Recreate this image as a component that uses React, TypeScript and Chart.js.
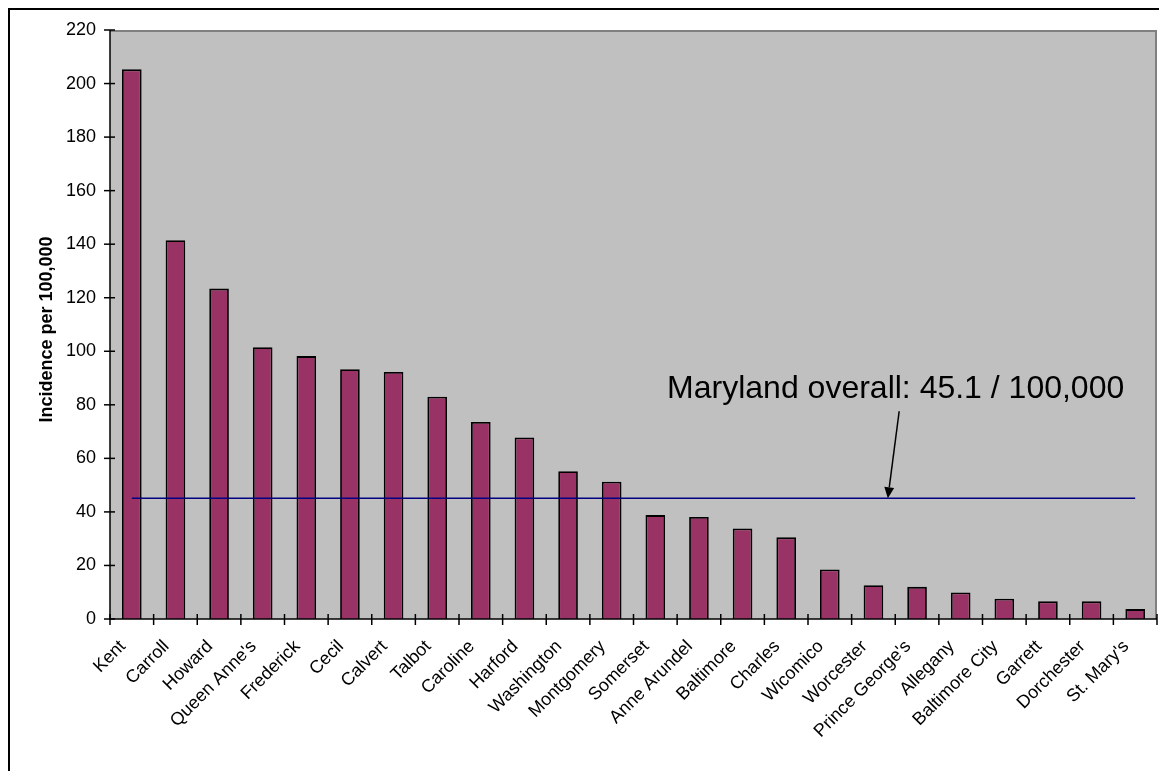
import React, { useEffect, useRef } from "react";
import { Chart, registerables } from "chart.js";

Chart.register(...registerables);

const counties = [
  "Kent", "Carroll", "Howard", "Queen Anne's", "Frederick", "Cecil", "Calvert", "Talbot",
  "Caroline", "Harford", "Washington", "Montgomery", "Somerset", "Anne Arundel", "Baltimore",
  "Charles", "Wicomico", "Worcester", "Prince George's", "Allegany", "Baltimore City",
  "Garrett", "Dorchester", "St. Mary's",
];
const incidence = [
  205.3, 141.5, 123.4, 101.5, 98.2, 93.3, 92.3, 83.0,
  73.6, 67.8, 55.2, 51.3, 38.8, 38.1, 33.8,
  30.5, 18.5, 12.6, 12.0, 9.9, 7.6,
  6.6, 6.6, 3.7,
];
const marylandOverall = 45.1;
const yTickStep = 20;
const yMax = 220;
const yAxisTitle = "Incidence per 100,000";
const annotationLabel = "Maryland overall: 45.1 / 100,000";
// annotation anchors in data units (category index, value)
const annotationTextAt = { idx: 12.27, value: 82.4 };
const arrowFrom = { idx: 17.59, value: 77.6 };
const arrowTo = { idx: 17.33, value: marylandOverall };

const FONT = "Arial, 'Liberation Sans', sans-serif";

const decor = {
  id: "decor",
  beforeDatasetsDraw(chart: any) {
    const { ctx, chartArea: a } = chart;
    ctx.save();
    ctx.fillStyle = "#C0C0C0";
    ctx.fillRect(a.left, a.top, a.right - a.left, a.bottom - a.top);
    ctx.strokeStyle = "#808080";
    ctx.lineWidth = 2;
    ctx.beginPath();
    ctx.moveTo(a.left, a.top + 1);
    ctx.lineTo(a.right - 1, a.top + 1);
    ctx.lineTo(a.right - 1, a.bottom);
    ctx.stroke();
    ctx.restore();
  },
  afterDatasetsDraw(chart: any) {
    const { ctx, chartArea: a, scales } = chart;
    const xs = scales.x;
    const ys = scales.y;
    ctx.save();
    // axes
    ctx.strokeStyle = "#000";
    ctx.lineWidth = 1.5;
    ctx.beginPath();
    ctx.moveTo(a.left, a.top);
    ctx.lineTo(a.left, a.bottom);
    ctx.lineTo(a.right, a.bottom);
    ctx.stroke();
    // y ticks (cross)
    ys.ticks.forEach((t: any) => {
      const y = ys.getPixelForValue(t.value);
      ctx.beginPath();
      ctx.moveTo(a.left - 6, y);
      ctx.lineTo(a.left + 5, y);
      ctx.stroke();
    });
    // x ticks at category boundaries
    for (let i = 0; i <= counties.length; i++) {
      const x = xs.getPixelForValue(i - 0.5);
      ctx.beginPath();
      ctx.moveTo(x, a.bottom - 5);
      ctx.lineTo(x, a.bottom + 6);
      ctx.stroke();
    }
    // annotation text
    ctx.fillStyle = "#000";
    ctx.font = `32px ${FONT}`;
    ctx.textAlign = "left";
    ctx.textBaseline = "alphabetic";
    ctx.fillText(
      annotationLabel,
      xs.getPixelForValue(annotationTextAt.idx),
      ys.getPixelForValue(annotationTextAt.value)
    );
    // arrow
    const x1 = xs.getPixelForValue(arrowFrom.idx);
    const y1 = ys.getPixelForValue(arrowFrom.value);
    const x2 = xs.getPixelForValue(arrowTo.idx);
    const y2 = ys.getPixelForValue(arrowTo.value);
    const ang = Math.atan2(y2 - y1, x2 - x1);
    const hl = 11;
    const hw = 5;
    ctx.lineWidth = 1.5;
    ctx.beginPath();
    ctx.moveTo(x1, y1);
    ctx.lineTo(x2 - Math.cos(ang) * hl, y2 - Math.sin(ang) * hl);
    ctx.stroke();
    ctx.beginPath();
    ctx.moveTo(x2, y2);
    ctx.lineTo(
      x2 - Math.cos(ang) * hl + Math.sin(ang) * hw,
      y2 - Math.sin(ang) * hl - Math.cos(ang) * hw
    );
    ctx.lineTo(
      x2 - Math.cos(ang) * hl - Math.sin(ang) * hw,
      y2 - Math.sin(ang) * hl + Math.cos(ang) * hw
    );
    ctx.closePath();
    ctx.fill();
    // y-axis title
    ctx.font = `bold 18px ${FONT}`;
    ctx.textAlign = "center";
    ctx.translate(52, (a.top + a.bottom) / 2 + 5);
    ctx.rotate(-Math.PI / 2);
    ctx.fillText(yAxisTitle, 0, 0);
    ctx.restore();
  },
};

export default function App() {
  const ref = useRef<HTMLCanvasElement | null>(null);
  useEffect(() => {
    if (!ref.current) return;
    const chart = new Chart(ref.current, {
      type: "bar",
      data: {
        labels: counties,
        datasets: [
          {
            type: "line",
            label: "Maryland overall",
            data: counties.map(() => marylandOverall),
            borderColor: "#000080",
            borderWidth: 1.5,
            pointRadius: 0,
            fill: false,
            order: 0,
          } as any,
          {
            type: "bar",
            label: "Incidence",
            data: incidence,
            backgroundColor: "#993366",
            borderColor: "#000000",
            borderWidth: 1.8,
            barPercentage: 0.45,
            categoryPercentage: 1,
            order: 1,
          },
        ],
      },
      options: {
        responsive: false,
        animation: false,
        layout: { padding: { top: 30, right: 2, left: 0, bottom: 0 } },
        plugins: { legend: { display: false }, tooltip: { enabled: false }, title: { display: false } },
        scales: {
          x: {
            offset: true,
            grid: { display: false, drawTicks: false },
            border: { display: false },
            ticks: {
              color: "#000",
              font: { family: FONT, size: 18 },
              minRotation: 45,
              maxRotation: 45,
              autoSkip: false,
              padding: 17,
              labelOffset: -9,
            },
            afterFit(s: any) {
              s.height = 152;
              s.paddingLeft = 0;
              s.paddingRight = 0;
            },
          },
          y: {
            min: 0,
            max: yMax,
            grid: { display: false, drawTicks: false },
            border: { display: false },
            ticks: {
              stepSize: yTickStep,
              color: "#000",
              font: { family: FONT, size: 18 },
              padding: 14,
            },
            afterFit(s: any) {
              s.width = 110;
              s.paddingTop = 0;
              s.paddingBottom = 0;
            },
          },
        },
      },
      plugins: [decor],
    });
    return () => chart.destroy();
  }, []);
  return (
    <>
      <div
        style={{
          position: "fixed",
          left: 8,
          top: 8,
          width: 1400,
          height: 1000,
          border: "2px solid #000",
          boxSizing: "border-box",
          background: "#fff",
        }}
      />
      <canvas
        ref={ref}
        width={1159}
        height={771}
        style={{ position: "fixed", left: 0, top: 0, width: 1159, height: 771, display: "block" }}
      />
    </>
  );
}
